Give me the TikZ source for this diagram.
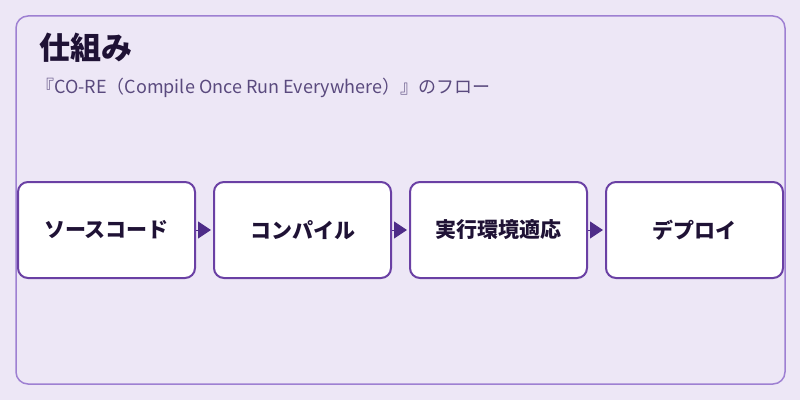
\documentclass[tikz,border=0pt]{standalone}
\usepackage{fontspec}
\setmainfont{Noto Sans CJK JP}
\usetikzlibrary{positioning,arrows.meta}
\definecolor{bgpurple}{HTML}{EDE7F6}
\definecolor{framepurple}{HTML}{9E80D2}
\definecolor{boxpurple}{HTML}{6A40A4}
\definecolor{arrowpurple}{HTML}{4E2C88}
\definecolor{titleink}{HTML}{1F1235}
\definecolor{subink}{HTML}{5A4A7E}
\tikzset{
  stepbox/.style={draw=boxpurple, line width=2pt, fill=white, rounded corners=10pt,
    minimum width=177pt, minimum height=96pt, inner sep=0pt,
    font=\bfseries\fontsize{21}{23}\selectfont, text=titleink},
  flow/.style={-{Triangle[length=13pt,width=17pt]}, arrowpurple, line width=1pt, shorten >=2pt},
}

\begin{document}
\begin{tikzpicture}[x=1pt,y=1pt]
              \fill[bgpurple] (0,0) rectangle (800,400);
              \useasboundingbox (0,0) rectangle (800,400);
              \draw[framepurple, line width=1.5pt, rounded corners=12pt] (16,16) rectangle (785,384);
              \node[anchor=base west, inner sep=0pt, text=titleink, font=\bfseries\fontsize{31}{33}\selectfont] (title) at (39,341) {仕組み};
              \node[anchor=base west, inner sep=0pt, text=subink, font=\fontsize{18}{20}\selectfont] (subtitle) at (36,307) {『CO-RE（Compile Once Run Everywhere）』のフロー};
              \node[stepbox] (src) at (106.5,170) {ソースコード};
              \node[stepbox, right=17pt of src] (cmp) {コンパイル};
              \node[stepbox, right=17pt of cmp] (env) {実行環境適応};
              \node[stepbox, right=17pt of env] (dpl) {デプロイ};
              \draw[flow] (src) -- (cmp);
              \draw[flow] (cmp) -- (env);
              \draw[flow] (env) -- (dpl);
          \end{tikzpicture}
\end{document}
